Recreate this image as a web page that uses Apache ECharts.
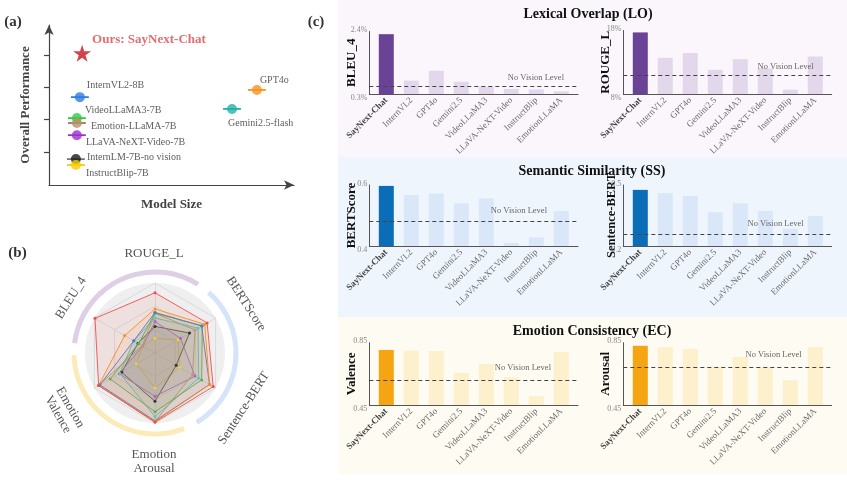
<!DOCTYPE html>
<html><head><meta charset="utf-8">
<script src="https://cdn.jsdelivr.net/npm/echarts@6/dist/echarts.min.js"></script>
<style>html,body{margin:0;padding:0;background:#fff}#c{width:847px;height:481px}</style>
</head><body><div id="c"></div>
<script>
// ---------- Panel (a) data ----------
const scatterModels = ['InternVL2-8B','VideoLLaMA3-7B','Emotion-LLaMA-7B','LLaVA-NeXT-Video-7B','InternLM-7B-no vision','InstructBlip-7B','GPT4o','Gemini2.5-flash'];
const modelSize   = [12.4, 11.2, 11.2, 11.2, 10.8, 10.8, 83.5, 73.5];
const performance = [2.68, 2.04, 1.89, 1.52, 0.79, 0.61, 2.90, 2.32];
const sizeErr     = [3.6, 3.6, 3.6, 3.6, 3.6, 3.6, 3.6, 3.6];
const oursName = 'Ours: SayNext-Chat';
const oursSize = [13.3];
const oursPerf = [4.02];

// ---------- Panel (b) data ----------
const radarAxes = ['ROUGE_L','BLEU_4','Emotion Valence','Emotion Arousal','Sentence-BERT','BERTScore'];
const radarModels = ['InstructBlip','InternLM-no vision','LLaVA-NeXT-Video','Emotion-LLaMA','Gemini2.5','VideoLLaMA3','InternVL2','GPT4o','SayNext-Chat'];
const radarInstructBlip = [0.21, 0.20, 0.31, 0.50, 0.41, 0.38];
const radarInternLM     = [0.38, 0.28, 0.55, 0.69, 0.35, 0.57];
const radarLLaVA        = [0.45, 0.20, 0.59, 0.62, 0.66, 0.42];
const radarEmotionLLaMA = [0.57, 0.21, 0.93, 0.98, 0.62, 0.66];
const radarGemini       = [0.50, 0.35, 0.58, 0.91, 0.72, 0.71];
const radarVideoLLaMA3  = [0.57, 0.27, 0.74, 0.84, 0.77, 0.78];
const radarInternVL2    = [0.58, 0.35, 0.91, 0.97, 0.90, 0.77];
const radarGPT4o        = [0.63, 0.50, 0.93, 0.98, 0.90, 0.82];
const radarSayNext      = [0.86, 0.99, 0.93, 0.99, 0.96, 0.86];

// ---------- Panel (c) data ----------
const categories = ['SayNext-Chat','InternVL2','GPT4o','Gemini2.5','VideoLLaMA3','LLaVA-NeXT-Video','InstructBlip','EmotionLLaMA'];
const bleu4        = [2.31, 0.75, 1.08, 0.71, 0.54, 0.47, 0.45, 0.39];
const rougeL       = [17.7, 13.7, 14.45, 11.8, 13.5, 12.0, 8.67, 13.9];
const bertScore    = [0.597, 0.567, 0.572, 0.540, 0.556, 0.410, 0.428, 0.515];
const sentenceBert = [0.476, 0.460, 0.446, 0.366, 0.410, 0.372, 0.284, 0.348];
const valence      = [0.803, 0.799, 0.797, 0.657, 0.713, 0.628, 0.506, 0.790];
const arousal      = [0.830, 0.822, 0.810, 0.696, 0.758, 0.692, 0.609, 0.822];
const noVisionLevels = [0.57, 10.9, 0.481, 0.264, 0.615, 0.692]; // bleu4, rougeL, bertScore, sentenceBert, valence, arousal
const bleu4Range = [0.3, 2.4],  bleu4Ticks = ['0.3%','2.4%'];
const rougeRange = [8, 18],     rougeTicks = ['8%','18%'];
const bertRange  = [0.4, 0.6],  bertTicks  = ['0.4','0.6'];
const sbertRange = [0.2, 0.5],  sbertTicks = ['0.2','0.5'];
const valRange   = [0.45, 0.85], valTicks  = ['0.45','0.85'];
const aroRange   = [0.45, 0.85], aroTicks  = ['0.45','0.85'];
const noVisionText = 'No Vision Level';

// ---------- styles / layout ----------
const SERIF = "'Times New Roman','Liberation Serif',serif";
const scatterColors = ['#2a7de1','#2ecc40','#b8906a','#9b30d0','#1a1a1a','#f5d000','#f7941d','#20b2aa'];
const errColors     = ['#2a7de1','#2ecc40','#a07850','#9b30d0','#777777','#f5d000','#f7941d','#20b2aa'];
const labelOffsets  = [[7,-12],[8,-8],[14,3],[9,7],[11,-2],[10,8],[3,-10],[-4,14]];
const radarColors = ['#f0d040','#333333','#b060d0','#c49a6c','#5cc8c0','#4cbb4c','#3b7dd8','#f7941d','#f04e4e'];
const radarData = [radarInstructBlip, radarInternLM, radarLLaVA, radarEmotionLLaMA, radarGemini, radarVideoLLaMA3, radarInternVL2, radarGPT4o, radarSayNext];

const palettes = {
  LO: {hi:'#6a4396', lo:'#e3d8eb'},
  SS: {hi:'#0b6cb8', lo:'#d9e7f8'},
  EC: {hi:'#f5a511', lo:'#fdf0cc'}
};
const charts = [
  {name:'BLEU_4', values:bleu4, range:bleu4Range, ticks:bleu4Ticks, nv:noVisionLevels[0], pal:palettes.LO, axisX:369.3, endX:578,   top:31.5, bottom:94,  pad:[0,11,1,0], nameGap:11, nameSize:13},
  {name:'ROUGE_L', values:rougeL, range:rougeRange, ticks:rougeTicks, nv:noVisionLevels[1], pal:palettes.LO, axisX:623.3, endX:831.7, top:30.5, bottom:94, pad:[0,15,1,0], nameGap:11, nameSize:13},
  {name:'BERTScore', values:bertScore, range:bertRange, ticks:bertTicks, nv:noVisionLevels[2], pal:palettes.SS, axisX:369.3, endX:578, top:185, bottom:246, pad:[0,28,3,0], nameGap:11, nameSize:13},
  {name:'Sentence-BERT', values:sentenceBert, range:sbertRange, ticks:sbertTicks, nv:noVisionLevels[3], pal:palettes.SS, axisX:623.3, endX:831.7, top:185, bottom:246, pad:[0,25,3,0], nameGap:5, nameSize:12.5},
  {name:'Valence', values:valence, range:valRange, ticks:valTicks, nv:noVisionLevels[4], pal:palettes.EC, axisX:369.3, endX:578, top:342.7, bottom:405, pad:[0,24,5,0], nameGap:11, nameSize:13},
  {name:'Arousal', values:arousal, range:aroRange, ticks:aroTicks, nv:noVisionLevels[5], pal:palettes.EC, axisX:623.3, endX:831.7, top:342.7, bottom:405, pad:[0,27,5,0], nameGap:11, nameSize:13}
];

const grids = [], xAxes = [], yAxes = [], series = [];

// Panel (a) grids
grids.push({left:49, top:25, width:245, height:160});
grids.push({left:49, top:55, width:245, height:97});
const axisNameStyle = {fontFamily:SERIF, fontWeight:'bold', fontSize:13, color:'#444'};
xAxes.push({gridIndex:0, type:'value', min:0, max:98.4,
  axisLine:{show:true, symbol:['none','arrow'], symbolSize:[7,10], lineStyle:{color:'#444', width:1.2}},
  axisTick:{show:false}, axisLabel:{show:false}, splitLine:{show:false},
  name:'Model Size', nameLocation:'middle', nameGap:13, nameMoveOverlap:false, nameTextStyle:axisNameStyle});
yAxes.push({gridIndex:0, type:'value', min:0, max:4.88,
  axisLine:{show:true, symbol:['none','arrow'], symbolSize:[7,10], lineStyle:{color:'#444', width:1.2}},
  axisTick:{show:false}, axisLabel:{show:false}, splitLine:{show:false},
  name:'Overall Performance', nameLocation:'middle', nameGap:17, nameRotate:90, nameMoveOverlap:false, nameTextStyle:axisNameStyle});
xAxes.push({gridIndex:1, type:'value', show:false});
yAxes.push({gridIndex:1, type:'value', min:1, max:4, interval:1,
  axisLine:{show:false}, axisTick:{show:true, length:5, lineStyle:{color:'#444', width:1.2}},
  axisLabel:{show:false}, splitLine:{show:false}});

// error bars
series.push({type:'custom', xAxisIndex:0, yAxisIndex:0, silent:true,
  data: modelSize.map((s,i)=>[s, performance[i], sizeErr[i]]),
  renderItem: function(params, api){
    const i = params.dataIndex;
    const x = api.value(0), y = api.value(1), e = api.value(2);
    const p1 = api.coord([x-e, y]), p2 = api.coord([x+e, y]);
    return {type:'line', shape:{x1:p1[0], y1:p1[1], x2:p2[0], y2:p2[1]}, style:{stroke:errColors[i], lineWidth:1.8}};
  }, z:2});
series.push({type:'scatter', xAxisIndex:0, yAxisIndex:0, symbolSize:10, silent:true, z:3,
  data: modelSize.map((s,i)=>({value:[s, performance[i]], name:scatterModels[i],
    itemStyle:{color:scatterColors[i]},
    label:{show:true, formatter:scatterModels[i], position:'inside', align:'left', verticalAlign:'middle',
      offset:labelOffsets[i], fontFamily:SERIF, fontSize:10, color:'#333'}}))});
series.push({type:'scatter', xAxisIndex:0, yAxisIndex:0, silent:true, z:3,
  symbol:'path://M50,0 L61,35 L98,35 L68,57 L79,91 L50,70 L21,91 L32,57 L2,35 L39,35 Z', symbolSize:[18,17],
  itemStyle:{color:'#c8141e'},
  data: oursSize.map((s,i)=>({value:[s, oursPerf[i]], label:{show:true, formatter:oursName, position:'inside', align:'left', verticalAlign:'middle', offset:[10,-14], fontFamily:SERIF, fontSize:13, fontWeight:'bold', color:'#e0474c'}}))});

// radar
series.push({type:'radar', radarIndex:0, symbol:'circle', symbolSize:3, silent:true, z:3,
  data: radarData.map((v,i)=>({name:radarModels[i], value:v,
    lineStyle:{color:radarColors[i], width:0.9},
    itemStyle:{color:radarColors[i]},
    areaStyle:{color:radarColors[i], opacity:0.09}}))});

// bar charts
charts.forEach((c, k) => {
  const gFrame = grids.length, gData = gFrame + 1;
  const h = c.bottom - c.top;
  grids.push({left:c.axisX, top:c.top, width:c.endX - c.axisX, height:h});
  grids.push({left:c.axisX + 4.5, top:c.top, width:200, height:h});
  const tickStyle = {fontFamily:SERIF, fontSize:8, color:'#888'};
  xAxes.push({gridIndex:gFrame, type:'value', min:0, max:1,
    axisLine:{show:true, lineStyle:{color:'#555', width:1}}, axisTick:{show:false}, axisLabel:{show:false}, splitLine:{show:false}});
  yAxes.push({gridIndex:gFrame, type:'value', min:c.range[0], max:c.range[1], interval:c.range[1]-c.range[0],
    axisLine:{show:true, lineStyle:{color:'#555', width:1}}, axisTick:{show:false}, splitLine:{show:false},
    axisLabel:{show:true, margin:2, showMinLabel:true, showMaxLabel:true,
      formatter:(v)=> (Math.abs(v - c.range[0]) < 1e-9 ? '{b|'+c.ticks[0]+'}' : '{t|'+c.ticks[1]+'}'),
      rich:{b:Object.assign({padding:[8,0,0,0]}, tickStyle), t:Object.assign({padding:[0,0,3,0]}, tickStyle)}},
    name:c.name, nameLocation:'middle', nameGap:c.nameGap, nameRotate:90, nameMoveOverlap:false,
    nameTextStyle:{fontFamily:SERIF, fontWeight:'bold', fontSize:c.nameSize, color:'#111'}});
  xAxes.push({gridIndex:gData, type:'category', data:categories,
    axisLine:{show:false}, axisTick:{show:false}, splitLine:{show:false},
    axisLabel:{show:true, interval:0, rotate:45, margin:5,
      formatter:(v,i)=> i===0 ? '{h|'+v+'}' : '{n|'+v+'}',
      rich:{h:{fontFamily:SERIF, fontSize:9, color:'#444', fontWeight:'bold'}, n:{fontFamily:SERIF, fontSize:9, color:'#6a6a6a'}}}});
  yAxes.push({gridIndex:gData, type:'value', min:c.range[0], max:c.range[1], show:false, splitLine:{show:false}});
  const xi = xAxes.length - 1, yi = yAxes.length - 1;
  series.push({type:'bar', xAxisIndex:xi, yAxisIndex:yi, barWidth:15, silent:true, z:3,
    data: c.values.map((v,i)=>({value:v, itemStyle:{color: i===0 ? c.pal.hi : c.pal.lo}}))});
  series.push({type:'line', xAxisIndex:xi-1, yAxisIndex:yi-1, silent:true, symbol:'none', z:4,
    lineStyle:{opacity:0}, data:[[0, c.nv],[1, c.nv]],
    markLine:{silent:true, symbol:'none', animation:false,
      lineStyle:{type:[4,3], color:'#444', width:1},
      label:{show:true, formatter:noVisionText, position:'insideEndTop', distance:3, padding:c.pad,
        fontFamily:SERIF, fontSize:8.5, color:'#666'},
      data:[{yAxis:c.nv}]}});
});

// graphic decorations and text
const deg = Math.PI/180;
const RC = [155, 353];
const txt = (x,y,text,opt) => Object.assign({type:'text', x:x, y:y, silent:true,
  style:Object.assign({text:text, fontFamily:SERIF, align:'center', verticalAlign:'middle', fill:'#333'}, opt.style||{})}, opt.el||{});
const graphics = [
  {type:'rect', z:-100, silent:true, shape:{x:338, y:0, width:509, height:157}, style:{fill:'#faf6fc'}},
  {type:'rect', z:-100, silent:true, shape:{x:338, y:157, width:509, height:160}, style:{fill:'#eff5fd'}},
  {type:'rect', z:-100, silent:true, shape:{x:338, y:317, width:509, height:158}, style:{fill:'#fefbf2'}},
  {type:'circle', z:-50, silent:true, shape:{cx:RC[0], cy:RC[1], r:70}, style:{fill:'#efefef'}},
  {type:'arc', silent:true, shape:{cx:RC[0], cy:RC[1], r:81, startAngle:-173*deg, endAngle:-58*deg, clockwise:true}, style:{stroke:'#ddd0e6', lineWidth:5, fill:null}},
  {type:'arc', silent:true, shape:{cx:RC[0], cy:RC[1], r:81, startAngle:-48.5*deg, endAngle:59*deg, clockwise:true}, style:{stroke:'#d5e4f8', lineWidth:5, fill:null}},
  {type:'arc', silent:true, shape:{cx:RC[0], cy:RC[1], r:81, startAngle:69*deg, endAngle:178.5*deg, clockwise:true}, style:{stroke:'#fcebb8', lineWidth:5, fill:null}},
  txt(154, 254, 'ROUGE_L', {style:{fontSize:13, fill:'#555'}}),
  txt(246, 304, 'BERTScore', {style:{fontSize:13, fill:'#555'}, el:{rotation:-57*deg}}),
  txt(244, 408, 'Sentence-BERT', {style:{fontSize:13, fill:'#555'}, el:{rotation:57*deg}}),
  txt(154, 462, 'Emotion\nArousal', {style:{fontSize:13, fill:'#555', lineHeight:14}}),
  txt(64, 411, 'Emotion\nValence', {style:{fontSize:13, fill:'#555', lineHeight:14}, el:{rotation:-60*deg}}),
  txt(71, 298, 'BLEU_4', {style:{fontSize:13, fill:'#555'}, el:{rotation:58*deg}}),
  txt(13, 22.5, '(a)', {style:{fontSize:15, fontWeight:'bold', fill:'#333'}}),
  txt(17.5, 253.5, '(b)', {style:{fontSize:15, fontWeight:'bold', fill:'#333'}}),
  txt(316, 22, '(c)', {style:{fontSize:15, fontWeight:'bold', fill:'#333'}}),
  txt(588, 14, 'Lexical Overlap (LO)', {style:{fontSize:14, fontWeight:'bold', fill:'#111'}}),
  txt(592, 171, 'Semantic Similarity (SS)', {style:{fontSize:14, fontWeight:'bold', fill:'#111'}}),
  txt(592, 331, 'Emotion Consistency (EC)', {style:{fontSize:14, fontWeight:'bold', fill:'#111'}})
];

const option = {
  animation:false,
  backgroundColor:'#ffffff',
  grid:grids, xAxis:xAxes, yAxis:yAxes,
  radar:{center:RC, radius:70, startAngle:90, splitNumber:3, shape:'polygon', z:1,
    indicator: radarAxes.map(n=>({name:n, min:0, max:1})),
    axisName:{show:false},
    splitLine:{lineStyle:{color:'#d4d4d4', width:0.8}},
    splitArea:{show:false},
    axisLine:{lineStyle:{color:'#d4d4d4', width:0.8}}},
  graphic:{elements:graphics},
  series:series
};
const chart = echarts.init(document.getElementById('c'));
chart.setOption(option);
</script>
</body></html>
